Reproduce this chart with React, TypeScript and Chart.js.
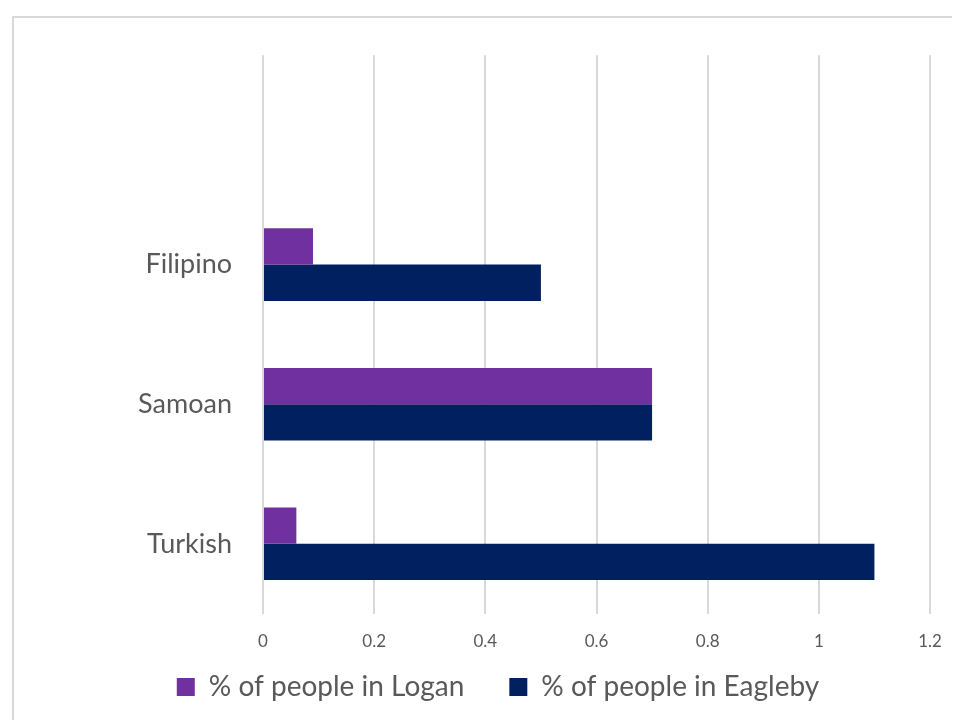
import React, { useEffect, useRef } from "react";
import { Chart, registerables } from "chart.js";

Chart.register(...registerables);

const categories = ["", "Filipino", "Samoan", "Turkish"];
const loganValues = [null, 0.09, 0.7, 0.06];
const eaglebyValues = [null, 0.5, 0.7, 1.1];
const seriesNames = ["% of people in Logan", "% of people in Eagleby"];
const xTicks = [0, 0.2, 0.4, 0.6, 0.8, 1, 1.2];

const FONT = "Lato, 'Open Sans', sans-serif";
const TEXT = "#595959";
const GRID = "#d9d9d9";

// Moves the legend up so it sits closer to the axis labels (as in the reference)
const legendShift = {
  id: "legendShift",
  afterLayout(chart: any) {
    if (chart.legend) {
      chart.legend.top -= 42;
      chart.legend.bottom -= 42;
    }
  },
};

export default function App() {
  const ref = useRef<HTMLCanvasElement | null>(null);

  useEffect(() => {
    if (!ref.current) return;
    const chart = new Chart(ref.current, {
      type: "bar",
      data: {
        labels: categories,
        datasets: [
          {
            label: seriesNames[0],
            data: loganValues,
            backgroundColor: "#7030a0",
            borderWidth: 0,
            categoryPercentage: 0.52,
            barPercentage: 1,
          },
          {
            label: seriesNames[1],
            data: eaglebyValues,
            backgroundColor: "#002060",
            borderWidth: 0,
            categoryPercentage: 0.52,
            barPercentage: 1,
          },
        ],
      },
      plugins: [legendShift],
      options: {
        indexAxis: "y",
        animation: false,
        responsive: false,
        maintainAspectRatio: false,
        layout: { padding: { top: 43, left: 58, right: 58, bottom: 0 } },
        scales: {
          x: {
            min: xTicks[0],
            max: xTicks[xTicks.length - 1],
            afterBuildTicks: (scale: any) => {
              scale.ticks = xTicks.map((v) => ({ value: v }));
            },
            ticks: {
              color: TEXT,
              font: { family: FONT, size: 17 },
              padding: 18,
              callback: (v: any) => String(Number(Number(v).toFixed(1))),
            },
            grid: { color: GRID, lineWidth: 2, drawTicks: false },
            border: { display: false },
          },
          y: {
            afterFit: (scale: any) => {
              scale.width = 197;
            },
            ticks: {
              color: TEXT,
              font: { family: FONT, size: 27 },
              padding: 31,
            },
            grid: { display: false, drawTicks: false },
            border: { display: false },
          },
        },
        plugins: {
          legend: {
            position: "bottom",
            labels: {
              color: TEXT,
              font: { family: FONT, size: 28 },
              boxWidth: 18,
              boxHeight: 18,
              padding: 45,
            },
          },
          tooltip: { enabled: false },
        },
      },
    });
    return () => chart.destroy();
  }, []);

  return (
    <div
      style={{
        position: "relative",
        width: 952,
        height: 712,
        overflow: "hidden",
      }}
    >
      <div
        style={{
          position: "absolute",
          left: 4,
          top: 8,
          width: 1000,
          height: 800,
          border: "2px solid #d9d9d9",
          boxSizing: "border-box",
          background: "#fff",
        }}
      />
      <canvas
        ref={ref}
        width={980}
        height={745}
        style={{ position: "absolute", left: 0, top: 0, width: 980, height: 745 }}
      />
    </div>
  );
}
